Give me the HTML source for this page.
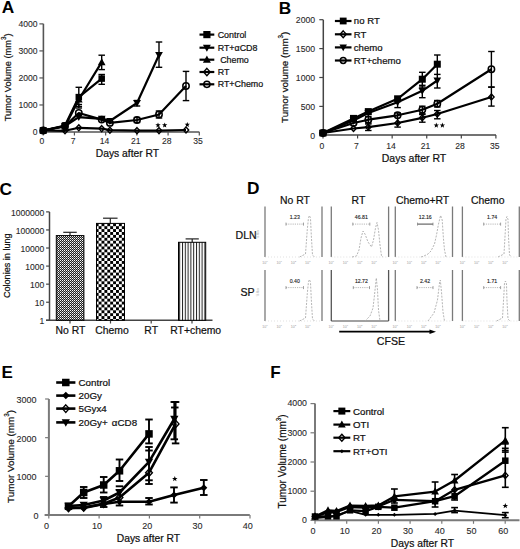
<!DOCTYPE html>
<html><head><meta charset="utf-8"><title>Figure</title>
<style>
html,body{margin:0;padding:0;background:#fff;}
body{width:520px;height:549px;overflow:hidden;}
svg{display:block;font-family:"Liberation Sans", sans-serif;}
</style></head>
<body>
<svg width="520" height="549" viewBox="0 0 520 549">
<rect width="520" height="549" fill="#fff"/>
<text x="1.7" y="12.7" font-size="17.3" font-weight="bold" fill="#000">A</text>
<line x1="43.4" y1="23.8" x2="43.4" y2="132.5" stroke="#555" stroke-width="1.6"/>
<line x1="39.4" y1="132" x2="43.4" y2="132" stroke="#555" stroke-width="1.2"/>
<text x="37.6" y="135.05" font-size="8.6" text-anchor="end" fill="#2a2a2a" stroke="#2a2a2a" stroke-width="0.1">0</text>
<line x1="39.4" y1="104.97" x2="43.4" y2="104.97" stroke="#555" stroke-width="1.2"/>
<text x="37.6" y="108.02" font-size="8.6" text-anchor="end" fill="#2a2a2a" stroke="#2a2a2a" stroke-width="0.1">1000</text>
<line x1="39.4" y1="77.94" x2="43.4" y2="77.94" stroke="#555" stroke-width="1.2"/>
<text x="37.6" y="80.99" font-size="8.6" text-anchor="end" fill="#2a2a2a" stroke="#2a2a2a" stroke-width="0.1">2000</text>
<line x1="39.4" y1="50.91" x2="43.4" y2="50.91" stroke="#555" stroke-width="1.2"/>
<text x="37.6" y="53.96" font-size="8.6" text-anchor="end" fill="#2a2a2a" stroke="#2a2a2a" stroke-width="0.1">3000</text>
<line x1="39.4" y1="23.88" x2="43.4" y2="23.88" stroke="#555" stroke-width="1.2"/>
<text x="37.6" y="26.93" font-size="8.6" text-anchor="end" fill="#2a2a2a" stroke="#2a2a2a" stroke-width="0.1">4000</text>
<line x1="43.2" y1="132" x2="199.4" y2="132" stroke="#555" stroke-width="1.6"/>
<line x1="43.2" y1="132" x2="43.2" y2="135.5" stroke="#555" stroke-width="1.2"/>
<text x="42" y="144.45" font-size="8.6" text-anchor="middle" fill="#2a2a2a" stroke="#2a2a2a" stroke-width="0.1">0</text>
<line x1="74.42" y1="132" x2="74.42" y2="135.5" stroke="#555" stroke-width="1.2"/>
<text x="73.22" y="144.45" font-size="8.6" text-anchor="middle" fill="#2a2a2a" stroke="#2a2a2a" stroke-width="0.1">7</text>
<line x1="105.64" y1="132" x2="105.64" y2="135.5" stroke="#555" stroke-width="1.2"/>
<text x="104.44" y="144.45" font-size="8.6" text-anchor="middle" fill="#2a2a2a" stroke="#2a2a2a" stroke-width="0.1">14</text>
<line x1="136.86" y1="132" x2="136.86" y2="135.5" stroke="#555" stroke-width="1.2"/>
<text x="135.66" y="144.45" font-size="8.6" text-anchor="middle" fill="#2a2a2a" stroke="#2a2a2a" stroke-width="0.1">21</text>
<line x1="168.08" y1="132" x2="168.08" y2="135.5" stroke="#555" stroke-width="1.2"/>
<text x="166.88" y="144.45" font-size="8.6" text-anchor="middle" fill="#2a2a2a" stroke="#2a2a2a" stroke-width="0.1">28</text>
<line x1="199.3" y1="132" x2="199.3" y2="135.5" stroke="#555" stroke-width="1.2"/>
<text x="198.1" y="144.45" font-size="8.6" text-anchor="middle" fill="#2a2a2a" stroke="#2a2a2a" stroke-width="0.1">35</text>
<text x="10.7" y="77.3" font-size="9.3" text-anchor="middle" fill="#111" transform="rotate(-90 10.7 77.3)" stroke="#111" stroke-width="0.22">Tumor Volume (mm<tspan dy="-4.9" font-size="6.3">3</tspan><tspan dy="4.9">)</tspan></text>
<text x="127.4" y="157.3" font-size="10.3" text-anchor="middle" fill="#111" stroke="#111" stroke-width="0.22">Days after RT</text>
<line x1="78.8" y1="87.3" x2="78.8" y2="106.5" stroke="#000" stroke-width="1.4"/>
<line x1="75.55" y1="87.3" x2="82.05" y2="87.3" stroke="#000" stroke-width="1.4"/>
<line x1="75.55" y1="106.5" x2="82.05" y2="106.5" stroke="#000" stroke-width="1.4"/>
<line x1="101.7" y1="74.5" x2="101.7" y2="84.3" stroke="#000" stroke-width="1.4"/>
<line x1="98.45" y1="74.5" x2="104.95" y2="74.5" stroke="#000" stroke-width="1.4"/>
<line x1="98.45" y1="84.3" x2="104.95" y2="84.3" stroke="#000" stroke-width="1.4"/>
<line x1="101.7" y1="55.2" x2="101.7" y2="69.6" stroke="#000" stroke-width="1.4"/>
<line x1="98.45" y1="55.2" x2="104.95" y2="55.2" stroke="#000" stroke-width="1.4"/>
<line x1="98.45" y1="69.6" x2="104.95" y2="69.6" stroke="#000" stroke-width="1.4"/>
<line x1="78.8" y1="104.5" x2="78.8" y2="108" stroke="#000" stroke-width="1.4"/>
<line x1="75.55" y1="104.5" x2="82.05" y2="104.5" stroke="#000" stroke-width="1.4"/>
<line x1="75.55" y1="108" x2="82.05" y2="108" stroke="#000" stroke-width="1.4"/>
<line x1="159" y1="42" x2="159" y2="67.3" stroke="#000" stroke-width="1.4"/>
<line x1="155.75" y1="42" x2="162.25" y2="42" stroke="#000" stroke-width="1.4"/>
<line x1="155.75" y1="67.3" x2="162.25" y2="67.3" stroke="#000" stroke-width="1.4"/>
<line x1="186" y1="71.4" x2="186" y2="100.6" stroke="#000" stroke-width="1.4"/>
<line x1="182.75" y1="71.4" x2="189.25" y2="71.4" stroke="#000" stroke-width="1.4"/>
<line x1="182.75" y1="100.6" x2="189.25" y2="100.6" stroke="#000" stroke-width="1.4"/>
<line x1="137" y1="100.5" x2="137" y2="106" stroke="#000" stroke-width="1.4"/>
<line x1="133.75" y1="100.5" x2="140.25" y2="100.5" stroke="#000" stroke-width="1.4"/>
<line x1="133.75" y1="106" x2="140.25" y2="106" stroke="#000" stroke-width="1.4"/>
<line x1="159" y1="111" x2="159" y2="118" stroke="#000" stroke-width="1.4"/>
<line x1="155.75" y1="111" x2="162.25" y2="111" stroke="#000" stroke-width="1.4"/>
<line x1="155.75" y1="118" x2="162.25" y2="118" stroke="#000" stroke-width="1.4"/>
<line x1="137" y1="117.5" x2="137" y2="122.5" stroke="#000" stroke-width="1.4"/>
<line x1="133.75" y1="117.5" x2="140.25" y2="117.5" stroke="#000" stroke-width="1.4"/>
<line x1="133.75" y1="122.5" x2="140.25" y2="122.5" stroke="#000" stroke-width="1.4"/>
<polyline points="43.2,130.5 65,130.8 78.8,127.8 101.7,128.6 109.9,130.2 137,130.6 159,130.6 186,130" fill="none" stroke="#000" stroke-width="2.2" stroke-linejoin="round"/>
<polygon points="43.2,127.5 45.9,130.5 43.2,133.5 40.5,130.5" fill="none" stroke="#000" stroke-width="1.4"/>
<polygon points="65,127.8 67.7,130.8 65,133.8 62.3,130.8" fill="none" stroke="#000" stroke-width="1.4"/>
<polygon points="78.8,124.8 81.5,127.8 78.8,130.8 76.1,127.8" fill="none" stroke="#000" stroke-width="1.4"/>
<polygon points="101.7,125.6 104.4,128.6 101.7,131.6 99,128.6" fill="none" stroke="#000" stroke-width="1.4"/>
<polygon points="109.9,127.2 112.6,130.2 109.9,133.2 107.2,130.2" fill="none" stroke="#000" stroke-width="1.4"/>
<polygon points="137,127.6 139.7,130.6 137,133.6 134.3,130.6" fill="none" stroke="#000" stroke-width="1.4"/>
<polygon points="159,127.6 161.7,130.6 159,133.6 156.3,130.6" fill="none" stroke="#000" stroke-width="1.4"/>
<polygon points="186,127 188.7,130 186,133 183.3,130" fill="none" stroke="#000" stroke-width="1.4"/>
<polyline points="43.2,130.5 65,126 78.8,113 101.7,119.6 109.9,122.9 137,120 159,114.5 186,86" fill="none" stroke="#000" stroke-width="2.2" stroke-linejoin="round"/>
<circle cx="43.2" cy="130.5" r="3.2" fill="none" stroke="#000" stroke-width="1.5"/>
<circle cx="65" cy="126" r="3.2" fill="none" stroke="#000" stroke-width="1.5"/>
<circle cx="78.8" cy="113" r="3.2" fill="none" stroke="#000" stroke-width="1.5"/>
<circle cx="101.7" cy="119.6" r="3.2" fill="none" stroke="#000" stroke-width="1.5"/>
<circle cx="109.9" cy="122.9" r="3.2" fill="none" stroke="#000" stroke-width="1.5"/>
<circle cx="137" cy="120" r="3.2" fill="none" stroke="#000" stroke-width="1.5"/>
<circle cx="159" cy="114.5" r="3.2" fill="none" stroke="#000" stroke-width="1.5"/>
<circle cx="186" cy="86" r="3.2" fill="none" stroke="#000" stroke-width="1.5"/>
<polyline points="43.2,130.5 65,126 78.8,117.1 101.7,118.8 109.9,121 137,103 159,55" fill="none" stroke="#000" stroke-width="2.2" stroke-linejoin="round"/>
<polygon points="43.2,134.53 39.35,127.53 47.05,127.53" fill="#000"/>
<polygon points="65,130.03 61.15,123.03 68.85,123.03" fill="#000"/>
<polygon points="78.8,121.12 74.95,114.12 82.65,114.12" fill="#000"/>
<polygon points="101.7,122.83 97.85,115.83 105.55,115.83" fill="#000"/>
<polygon points="109.9,125.03 106.05,118.03 113.75,118.03" fill="#000"/>
<polygon points="137,107.03 133.15,100.03 140.85,100.03" fill="#000"/>
<polygon points="159,59.02 155.15,52.02 162.85,52.02" fill="#000"/>
<polyline points="43.2,130.5 65,126.5 78.8,99.5 101.7,62.2" fill="none" stroke="#000" stroke-width="2.2" stroke-linejoin="round"/>
<polygon points="43.2,126.47 39.35,133.47 47.05,133.47" fill="#000"/>
<polygon points="65,122.47 61.15,129.47 68.85,129.47" fill="#000"/>
<polygon points="78.8,95.47 74.95,102.47 82.65,102.47" fill="#000"/>
<polygon points="101.7,58.18 97.85,65.17 105.55,65.17" fill="#000"/>
<polyline points="43.2,130.5 65,125.5 78.8,97.1 101.7,78.6" fill="none" stroke="#000" stroke-width="2.2" stroke-linejoin="round"/>
<rect x="39.95" y="127.25" width="6.5" height="6.5" fill="#000"/>
<rect x="61.75" y="122.25" width="6.5" height="6.5" fill="#000"/>
<rect x="75.55" y="93.85" width="6.5" height="6.5" fill="#000"/>
<rect x="98.45" y="75.35" width="6.5" height="6.5" fill="#000"/>
<polygon points="158,122.4 158.69,124.25 160.66,124.33 159.12,125.56 159.65,127.47 158,126.38 156.35,127.47 156.88,125.56 155.34,124.33 157.31,124.25" fill="#000"/>
<polygon points="164.7,122.4 165.39,124.25 167.36,124.33 165.82,125.56 166.35,127.47 164.7,126.38 163.05,127.47 163.58,125.56 162.04,124.33 164.01,124.25" fill="#000"/>
<polygon points="187.3,121.9 187.99,123.75 189.96,123.83 188.42,125.06 188.95,126.97 187.3,125.88 185.65,126.97 186.18,125.06 184.64,123.83 186.61,123.75" fill="#000"/>
<line x1="199.5" y1="34.6" x2="214.3" y2="34.6" stroke="#000" stroke-width="2.2"/>
<rect x="203.3" y="31" width="7.2" height="7.2" fill="#000"/>
<text x="217.7" y="37.76" font-size="8.9" fill="#111" stroke="#111" stroke-width="0.22">Control</text>
<line x1="199.5" y1="47.7" x2="214.3" y2="47.7" stroke="#000" stroke-width="2.2"/>
<polygon points="206.9,51.84 202.94,44.64 210.86,44.64" fill="#000"/>
<text x="217.7" y="50.86" font-size="8.9" fill="#111" stroke="#111" stroke-width="0.22">RT+&#945;CD8</text>
<line x1="199.5" y1="59.7" x2="214.3" y2="59.7" stroke="#000" stroke-width="2.2"/>
<polygon points="206.9,55.56 202.94,62.76 210.86,62.76" fill="#000"/>
<text x="217.7" y="62.86" font-size="8.9" fill="#111" stroke="#111" stroke-width="0.22"><tspan dx="2.5">Chemo</tspan></text>
<line x1="199.5" y1="72" x2="214.3" y2="72" stroke="#000" stroke-width="2.2"/>
<polygon points="206.9,68.4 210.14,72 206.9,75.6 203.66,72" fill="none" stroke="#000" stroke-width="1.4"/>
<text x="217.7" y="75.16" font-size="8.9" fill="#111" stroke="#111" stroke-width="0.22">RT</text>
<line x1="199.5" y1="84.3" x2="214.3" y2="84.3" stroke="#000" stroke-width="2.2"/>
<circle cx="206.9" cy="84.3" r="3.1" fill="none" stroke="#000" stroke-width="1.5"/>
<text x="217.7" y="87.46" font-size="8.9" fill="#111" stroke="#111" stroke-width="0.22">RT+Chemo</text>
<text x="278.7" y="13.8" font-size="17.3" font-weight="bold" fill="#000">B</text>
<line x1="323.3" y1="19.8" x2="323.3" y2="135.5" stroke="#444" stroke-width="1.5"/>
<line x1="319.3" y1="135.3" x2="323.3" y2="135.3" stroke="#444" stroke-width="1.2"/>
<text x="315.2" y="138.99" font-size="8.7" text-anchor="end" fill="#2a2a2a" stroke="#2a2a2a" stroke-width="0.1">0</text>
<line x1="319.3" y1="106.4" x2="323.3" y2="106.4" stroke="#444" stroke-width="1.2"/>
<text x="315.2" y="110.09" font-size="8.7" text-anchor="end" fill="#2a2a2a" stroke="#2a2a2a" stroke-width="0.1">500</text>
<line x1="319.3" y1="77.5" x2="323.3" y2="77.5" stroke="#444" stroke-width="1.2"/>
<text x="315.2" y="81.19" font-size="8.7" text-anchor="end" fill="#2a2a2a" stroke="#2a2a2a" stroke-width="0.1">1000</text>
<line x1="319.3" y1="48.6" x2="323.3" y2="48.6" stroke="#444" stroke-width="1.2"/>
<text x="315.2" y="52.29" font-size="8.7" text-anchor="end" fill="#2a2a2a" stroke="#2a2a2a" stroke-width="0.1">1500</text>
<line x1="319.3" y1="19.7" x2="323.3" y2="19.7" stroke="#444" stroke-width="1.2"/>
<text x="315.2" y="23.39" font-size="8.7" text-anchor="end" fill="#2a2a2a" stroke="#2a2a2a" stroke-width="0.1">2000</text>
<line x1="323.3" y1="135" x2="496" y2="135" stroke="#444" stroke-width="1.5"/>
<line x1="323" y1="135" x2="323" y2="138.5" stroke="#444" stroke-width="1.2"/>
<text x="321.8" y="148.65" font-size="8.6" text-anchor="middle" fill="#2a2a2a" stroke="#2a2a2a" stroke-width="0.1">0</text>
<line x1="357.58" y1="135" x2="357.58" y2="138.5" stroke="#444" stroke-width="1.2"/>
<text x="356.38" y="148.65" font-size="8.6" text-anchor="middle" fill="#2a2a2a" stroke="#2a2a2a" stroke-width="0.1">7</text>
<line x1="392.16" y1="135" x2="392.16" y2="138.5" stroke="#444" stroke-width="1.2"/>
<text x="390.96" y="148.65" font-size="8.6" text-anchor="middle" fill="#2a2a2a" stroke="#2a2a2a" stroke-width="0.1">14</text>
<line x1="426.74" y1="135" x2="426.74" y2="138.5" stroke="#444" stroke-width="1.2"/>
<text x="425.54" y="148.65" font-size="8.6" text-anchor="middle" fill="#2a2a2a" stroke="#2a2a2a" stroke-width="0.1">21</text>
<line x1="461.32" y1="135" x2="461.32" y2="138.5" stroke="#444" stroke-width="1.2"/>
<text x="460.12" y="148.65" font-size="8.6" text-anchor="middle" fill="#2a2a2a" stroke="#2a2a2a" stroke-width="0.1">28</text>
<line x1="495.9" y1="135" x2="495.9" y2="138.5" stroke="#444" stroke-width="1.2"/>
<text x="494.7" y="148.65" font-size="8.6" text-anchor="middle" fill="#2a2a2a" stroke="#2a2a2a" stroke-width="0.1">35</text>
<text x="287.9" y="77.3" font-size="9.8" text-anchor="middle" fill="#111" transform="rotate(-90 287.9 77.3)" stroke="#111" stroke-width="0.22">Tumor volume (mm<tspan dy="-4.9" font-size="6.3">3</tspan><tspan dy="4.9">)</tspan></text>
<text x="414" y="161.5" font-size="10.5" text-anchor="middle" fill="#111" stroke="#111" stroke-width="0.22">Days after RT</text>
<line x1="368.3" y1="116.5" x2="368.3" y2="123" stroke="#000" stroke-width="1.4"/>
<line x1="365.05" y1="116.5" x2="371.55" y2="116.5" stroke="#000" stroke-width="1.4"/>
<line x1="365.05" y1="123" x2="371.55" y2="123" stroke="#000" stroke-width="1.4"/>
<line x1="368.3" y1="124" x2="368.3" y2="130.5" stroke="#000" stroke-width="1.4"/>
<line x1="365.05" y1="124" x2="371.55" y2="124" stroke="#000" stroke-width="1.4"/>
<line x1="365.05" y1="130.5" x2="371.55" y2="130.5" stroke="#000" stroke-width="1.4"/>
<line x1="397.6" y1="99" x2="397.6" y2="107.6" stroke="#000" stroke-width="1.4"/>
<line x1="394.35" y1="107.6" x2="400.85" y2="107.6" stroke="#000" stroke-width="1.4"/>
<line x1="397.6" y1="113" x2="397.6" y2="127.1" stroke="#000" stroke-width="1.4"/>
<line x1="394.35" y1="113" x2="400.85" y2="113" stroke="#000" stroke-width="1.4"/>
<line x1="394.35" y1="127.1" x2="400.85" y2="127.1" stroke="#000" stroke-width="1.4"/>
<line x1="422.3" y1="72.3" x2="422.3" y2="97.7" stroke="#000" stroke-width="1.4"/>
<line x1="419.05" y1="72.3" x2="425.55" y2="72.3" stroke="#000" stroke-width="1.4"/>
<line x1="419.05" y1="97.7" x2="425.55" y2="97.7" stroke="#000" stroke-width="1.4"/>
<line x1="437.3" y1="55" x2="437.3" y2="88" stroke="#000" stroke-width="1.4"/>
<line x1="434.05" y1="55" x2="440.55" y2="55" stroke="#000" stroke-width="1.4"/>
<line x1="434.05" y1="88" x2="440.55" y2="88" stroke="#000" stroke-width="1.4"/>
<line x1="422.3" y1="106.2" x2="422.3" y2="113.8" stroke="#000" stroke-width="1.4"/>
<line x1="419.05" y1="106.2" x2="425.55" y2="106.2" stroke="#000" stroke-width="1.4"/>
<line x1="419.05" y1="113.8" x2="425.55" y2="113.8" stroke="#000" stroke-width="1.4"/>
<line x1="422.3" y1="114.5" x2="422.3" y2="122.2" stroke="#000" stroke-width="1.4"/>
<line x1="419.05" y1="114.5" x2="425.55" y2="114.5" stroke="#000" stroke-width="1.4"/>
<line x1="419.05" y1="122.2" x2="425.55" y2="122.2" stroke="#000" stroke-width="1.4"/>
<line x1="437.3" y1="100.5" x2="437.3" y2="107" stroke="#000" stroke-width="1.4"/>
<line x1="434.05" y1="100.5" x2="440.55" y2="100.5" stroke="#000" stroke-width="1.4"/>
<line x1="434.05" y1="107" x2="440.55" y2="107" stroke="#000" stroke-width="1.4"/>
<line x1="437.3" y1="110.5" x2="437.3" y2="118.8" stroke="#000" stroke-width="1.4"/>
<line x1="434.05" y1="110.5" x2="440.55" y2="110.5" stroke="#000" stroke-width="1.4"/>
<line x1="434.05" y1="118.8" x2="440.55" y2="118.8" stroke="#000" stroke-width="1.4"/>
<line x1="422.3" y1="85.3" x2="422.3" y2="85.3" stroke="#000" stroke-width="1.4"/>
<line x1="419.05" y1="85.3" x2="425.55" y2="85.3" stroke="#000" stroke-width="1.4"/>
<line x1="422.3" y1="87" x2="422.3" y2="87" stroke="#000" stroke-width="1.4"/>
<line x1="419.05" y1="87" x2="425.55" y2="87" stroke="#000" stroke-width="1.4"/>
<line x1="437.3" y1="74.4" x2="437.3" y2="74.4" stroke="#000" stroke-width="1.4"/>
<line x1="434.05" y1="74.4" x2="440.55" y2="74.4" stroke="#000" stroke-width="1.4"/>
<line x1="491.4" y1="51.5" x2="491.4" y2="87.1" stroke="#000" stroke-width="1.4"/>
<line x1="488.15" y1="51.5" x2="494.65" y2="51.5" stroke="#000" stroke-width="1.4"/>
<line x1="488.15" y1="87.1" x2="494.65" y2="87.1" stroke="#000" stroke-width="1.4"/>
<line x1="491.4" y1="87.1" x2="491.4" y2="106.1" stroke="#000" stroke-width="1.4"/>
<line x1="488.15" y1="87.1" x2="494.65" y2="87.1" stroke="#000" stroke-width="1.4"/>
<line x1="488.15" y1="106.1" x2="494.65" y2="106.1" stroke="#000" stroke-width="1.4"/>
<polyline points="323,133 353.5,128.5 368.3,127.1 397.6,123 422.3,117.8 437.3,114 491.4,97" fill="none" stroke="#000" stroke-width="2.2" stroke-linejoin="round"/>
<polygon points="323,130 325.7,133 323,136 320.3,133" fill="none" stroke="#000" stroke-width="1.4"/>
<polygon points="353.5,125.5 356.2,128.5 353.5,131.5 350.8,128.5" fill="none" stroke="#000" stroke-width="1.4"/>
<polygon points="368.3,124.1 371,127.1 368.3,130.1 365.6,127.1" fill="none" stroke="#000" stroke-width="1.4"/>
<polygon points="397.6,120 400.3,123 397.6,126 394.9,123" fill="none" stroke="#000" stroke-width="1.4"/>
<polygon points="422.3,114.8 425,117.8 422.3,120.8 419.6,117.8" fill="none" stroke="#000" stroke-width="1.4"/>
<polygon points="437.3,111 440,114 437.3,117 434.6,114" fill="none" stroke="#000" stroke-width="1.4"/>
<polygon points="491.4,94 494.1,97 491.4,100 488.7,97" fill="none" stroke="#000" stroke-width="1.4"/>
<polyline points="323,133 353.5,123 368.3,119.7 397.6,115.3 422.3,109.8 437.3,103.8 491.4,69.3" fill="none" stroke="#000" stroke-width="2.2" stroke-linejoin="round"/>
<circle cx="323" cy="133" r="3.2" fill="none" stroke="#000" stroke-width="1.5"/>
<circle cx="353.5" cy="123" r="3.2" fill="none" stroke="#000" stroke-width="1.5"/>
<circle cx="368.3" cy="119.7" r="3.2" fill="none" stroke="#000" stroke-width="1.5"/>
<circle cx="397.6" cy="115.3" r="3.2" fill="none" stroke="#000" stroke-width="1.5"/>
<circle cx="422.3" cy="109.8" r="3.2" fill="none" stroke="#000" stroke-width="1.5"/>
<circle cx="437.3" cy="103.8" r="3.2" fill="none" stroke="#000" stroke-width="1.5"/>
<circle cx="491.4" cy="69.3" r="3.2" fill="none" stroke="#000" stroke-width="1.5"/>
<polyline points="323,133 353.5,120.5 368.3,113 397.6,102.2 422.3,90.8 437.3,80.5" fill="none" stroke="#000" stroke-width="2.2" stroke-linejoin="round"/>
<polygon points="323,137.03 319.15,130.03 326.85,130.03" fill="#000"/>
<polygon points="353.5,124.53 349.65,117.53 357.35,117.53" fill="#000"/>
<polygon points="368.3,117.03 364.45,110.03 372.15,110.03" fill="#000"/>
<polygon points="397.6,106.23 393.75,99.23 401.45,99.23" fill="#000"/>
<polygon points="422.3,94.83 418.45,87.83 426.15,87.83" fill="#000"/>
<polygon points="437.3,84.53 433.45,77.53 441.15,77.53" fill="#000"/>
<polyline points="323,133 353.5,118.4 368.3,111.6 397.6,98.8 422.3,79.2 437.3,64.2" fill="none" stroke="#000" stroke-width="2.2" stroke-linejoin="round"/>
<rect x="319.5" y="129.5" width="7" height="7" fill="#000"/>
<rect x="350" y="114.9" width="7" height="7" fill="#000"/>
<rect x="364.8" y="108.1" width="7" height="7" fill="#000"/>
<rect x="394.1" y="95.3" width="7" height="7" fill="#000"/>
<rect x="418.8" y="75.7" width="7" height="7" fill="#000"/>
<rect x="433.8" y="60.7" width="7" height="7" fill="#000"/>
<polygon points="436.3,122.6 436.99,124.45 438.96,124.53 437.42,125.76 437.95,127.67 436.3,126.58 434.65,127.67 435.18,125.76 433.64,124.53 435.61,124.45" fill="#000"/>
<polygon points="442.4,122.6 443.09,124.45 445.06,124.53 443.52,125.76 444.05,127.67 442.4,126.58 440.75,127.67 441.28,125.76 439.74,124.53 441.71,124.45" fill="#000"/>
<line x1="334.9" y1="21" x2="351.5" y2="21" stroke="#000" stroke-width="2.2"/>
<rect x="339.8" y="17.6" width="6.8" height="6.8" fill="#000"/>
<text x="353.8" y="24.41" font-size="9.6" fill="#111" stroke="#111" stroke-width="0.22">no RT</text>
<line x1="334.9" y1="34.3" x2="351.5" y2="34.3" stroke="#000" stroke-width="2.2"/>
<polygon points="343.2,30.9 346.26,34.3 343.2,37.7 340.14,34.3" fill="none" stroke="#000" stroke-width="1.4"/>
<text x="353.8" y="37.71" font-size="9.6" fill="#111" stroke="#111" stroke-width="0.22">RT</text>
<line x1="334.9" y1="47.4" x2="351.5" y2="47.4" stroke="#000" stroke-width="2.2"/>
<polygon points="343.2,51.31 339.46,44.51 346.94,44.51" fill="#000"/>
<text x="353.8" y="50.81" font-size="9.6" fill="#111" stroke="#111" stroke-width="0.22">chemo</text>
<line x1="334.9" y1="60.5" x2="351.5" y2="60.5" stroke="#000" stroke-width="2.2"/>
<circle cx="343.2" cy="60.5" r="2.9" fill="none" stroke="#000" stroke-width="1.5"/>
<text x="353.8" y="63.91" font-size="9.6" fill="#111" stroke="#111" stroke-width="0.22">RT+chemo</text>
<text x="-0.5" y="194.6" font-size="17.3" font-weight="bold" fill="#000">C</text>
<line x1="49.5" y1="211.9" x2="49.5" y2="320.5" stroke="#444" stroke-width="1.5"/>
<line x1="46.1" y1="320.3" x2="49.5" y2="320.3" stroke="#444" stroke-width="1.2"/>
<text x="44.4" y="324.25" font-size="8.6" text-anchor="end" fill="#2a2a2a" stroke="#2a2a2a" stroke-width="0.1">1</text>
<line x1="46.1" y1="302.23" x2="49.5" y2="302.23" stroke="#444" stroke-width="1.2"/>
<text x="44.4" y="306.18" font-size="8.6" text-anchor="end" fill="#2a2a2a" stroke="#2a2a2a" stroke-width="0.1">10</text>
<line x1="46.1" y1="284.16" x2="49.5" y2="284.16" stroke="#444" stroke-width="1.2"/>
<text x="44.4" y="288.11" font-size="8.6" text-anchor="end" fill="#2a2a2a" stroke="#2a2a2a" stroke-width="0.1">100</text>
<line x1="46.1" y1="266.09" x2="49.5" y2="266.09" stroke="#444" stroke-width="1.2"/>
<text x="44.4" y="270.04" font-size="8.6" text-anchor="end" fill="#2a2a2a" stroke="#2a2a2a" stroke-width="0.1">1000</text>
<line x1="46.1" y1="248.02" x2="49.5" y2="248.02" stroke="#444" stroke-width="1.2"/>
<text x="44.4" y="251.97" font-size="8.6" text-anchor="end" fill="#2a2a2a" stroke="#2a2a2a" stroke-width="0.1">10000</text>
<line x1="46.1" y1="229.95" x2="49.5" y2="229.95" stroke="#444" stroke-width="1.2"/>
<text x="44.4" y="233.9" font-size="8.6" text-anchor="end" fill="#2a2a2a" stroke="#2a2a2a" stroke-width="0.1">100000</text>
<line x1="46.1" y1="211.88" x2="49.5" y2="211.88" stroke="#444" stroke-width="1.2"/>
<text x="44.4" y="215.83" font-size="8.6" text-anchor="end" fill="#2a2a2a" stroke="#2a2a2a" stroke-width="0.1">1000000</text>
<line x1="46" y1="320.3" x2="212.5" y2="320.3" stroke="#444" stroke-width="1.5"/>
<line x1="70" y1="320.3" x2="70" y2="323.5" stroke="#444" stroke-width="1.2"/>
<line x1="110.5" y1="320.3" x2="110.5" y2="323.5" stroke="#444" stroke-width="1.2"/>
<line x1="151.2" y1="320.3" x2="151.2" y2="323.5" stroke="#444" stroke-width="1.2"/>
<line x1="192" y1="320.3" x2="192" y2="323.5" stroke="#444" stroke-width="1.2"/>
<text x="70.5" y="334" font-size="10.4" text-anchor="middle" fill="#111" stroke="#111" stroke-width="0.22">No RT</text>
<text x="112" y="334" font-size="10.4" text-anchor="middle" fill="#111" stroke="#111" stroke-width="0.22">Chemo</text>
<text x="151.2" y="334" font-size="10.4" text-anchor="middle" fill="#111" stroke="#111" stroke-width="0.22">RT</text>
<text x="195.7" y="334" font-size="10.4" text-anchor="middle" fill="#111" stroke="#111" stroke-width="0.22">RT+chemo</text>
<text x="9.8" y="265.75" font-size="9.1" text-anchor="middle" fill="#111" transform="rotate(-90 9.8 265.75)" stroke="#111" stroke-width="0.22">Colonies in lung</text>
<defs><pattern id="pf" width="2" height="2" patternUnits="userSpaceOnUse"><rect width="2" height="2" fill="#222"/><rect width="1" height="1" fill="#fff"/><rect x="1" y="1" width="1" height="1" fill="#aaa"/></pattern><pattern id="pc" width="5.8" height="5.8" patternUnits="userSpaceOnUse"><rect width="5.8" height="5.8" fill="#fff"/><rect width="2.9" height="2.9" fill="#000"/><rect x="2.9" y="2.9" width="2.9" height="2.9" fill="#000"/></pattern><pattern id="pv" width="2.8" height="4" patternUnits="userSpaceOnUse"><rect width="2.8" height="4" fill="#fff"/><rect width="1" height="4" fill="#222"/></pattern></defs>
<line x1="70" y1="235.6" x2="70" y2="232.3" stroke="#222" stroke-width="1.2"/>
<line x1="63.25" y1="232.3" x2="76.75" y2="232.3" stroke="#222" stroke-width="1.2"/>
<line x1="110.3" y1="223.4" x2="110.3" y2="218.2" stroke="#222" stroke-width="1.2"/>
<line x1="103.05" y1="218.2" x2="117.55" y2="218.2" stroke="#222" stroke-width="1.2"/>
<line x1="192.2" y1="242.3" x2="192.2" y2="238.9" stroke="#222" stroke-width="1.2"/>
<line x1="185.6" y1="238.9" x2="198.8" y2="238.9" stroke="#222" stroke-width="1.2"/>
<rect x="56.3" y="235.6" width="27.6" height="84.7" fill="url(#pf)" stroke="#000" stroke-width="1"/>
<rect x="96.5" y="223.4" width="28.0" height="96.9" fill="url(#pc)" stroke="#000" stroke-width="1"/>
<rect x="178.5" y="242.3" width="27.2" height="78.0" fill="url(#pv)" stroke="#000" stroke-width="1"/>
<text x="246.9" y="193.6" font-size="17.3" font-weight="bold" fill="#000">D</text>
<text x="295" y="203.8" font-size="10.4" text-anchor="middle" fill="#111" stroke="#111" stroke-width="0.22">No RT</text>
<text x="358.4" y="203.8" font-size="10.4" text-anchor="middle" fill="#111" stroke="#111" stroke-width="0.22">RT</text>
<text x="422.6" y="203.8" font-size="10.4" text-anchor="middle" fill="#111" stroke="#111" stroke-width="0.22">Chemo+RT</text>
<text x="487.8" y="203.8" font-size="10.4" text-anchor="middle" fill="#111" stroke="#111" stroke-width="0.22">Chemo</text>
<text x="235.5" y="239" font-size="10.6" fill="#111" stroke="#111" stroke-width="0.22">DLN</text>
<text x="240.5" y="296.4" font-size="10.6" fill="#111" stroke="#111" stroke-width="0.22">SP</text>
<line x1="265" y1="206.5" x2="265" y2="257" stroke="#7a7a7a" stroke-width="1.3"/>
<line x1="322" y1="206.5" x2="322" y2="257" stroke="#7a7a7a" stroke-width="1.3"/>
<line x1="265" y1="257" x2="322" y2="257" stroke="#ccc" stroke-width="0.6" stroke-dasharray="1,2"/>
<text x="265" y="263.5" font-size="3.6" text-anchor="middle" fill="#999">10<tspan dy="-1.5" font-size="2.5">0</tspan></text>
<text x="279.2" y="263.5" font-size="3.6" text-anchor="middle" fill="#999">10<tspan dy="-1.5" font-size="2.5">1</tspan></text>
<text x="293.4" y="263.5" font-size="3.6" text-anchor="middle" fill="#999">10<tspan dy="-1.5" font-size="2.5">2</tspan></text>
<text x="307.6" y="263.5" font-size="3.6" text-anchor="middle" fill="#999">10<tspan dy="-1.5" font-size="2.5">3</tspan></text>
<line x1="331.3" y1="206.5" x2="331.3" y2="257" stroke="#7a7a7a" stroke-width="1.3"/>
<line x1="388.6" y1="206.5" x2="388.6" y2="257" stroke="#7a7a7a" stroke-width="1.3"/>
<line x1="331.3" y1="257" x2="388.6" y2="257" stroke="#ccc" stroke-width="0.6" stroke-dasharray="1,2"/>
<text x="331.3" y="263.5" font-size="3.6" text-anchor="middle" fill="#999">10<tspan dy="-1.5" font-size="2.5">0</tspan></text>
<text x="345.5" y="263.5" font-size="3.6" text-anchor="middle" fill="#999">10<tspan dy="-1.5" font-size="2.5">1</tspan></text>
<text x="359.7" y="263.5" font-size="3.6" text-anchor="middle" fill="#999">10<tspan dy="-1.5" font-size="2.5">2</tspan></text>
<text x="373.9" y="263.5" font-size="3.6" text-anchor="middle" fill="#999">10<tspan dy="-1.5" font-size="2.5">3</tspan></text>
<line x1="395.3" y1="206.5" x2="395.3" y2="257" stroke="#7a7a7a" stroke-width="1.3"/>
<line x1="452.5" y1="206.5" x2="452.5" y2="257" stroke="#7a7a7a" stroke-width="1.3"/>
<line x1="395.3" y1="257" x2="452.5" y2="257" stroke="#ccc" stroke-width="0.6" stroke-dasharray="1,2"/>
<text x="395.3" y="263.5" font-size="3.6" text-anchor="middle" fill="#999">10<tspan dy="-1.5" font-size="2.5">0</tspan></text>
<text x="409.5" y="263.5" font-size="3.6" text-anchor="middle" fill="#999">10<tspan dy="-1.5" font-size="2.5">1</tspan></text>
<text x="423.7" y="263.5" font-size="3.6" text-anchor="middle" fill="#999">10<tspan dy="-1.5" font-size="2.5">2</tspan></text>
<text x="437.9" y="263.5" font-size="3.6" text-anchor="middle" fill="#999">10<tspan dy="-1.5" font-size="2.5">3</tspan></text>
<line x1="462.4" y1="206.5" x2="462.4" y2="257" stroke="#7a7a7a" stroke-width="1.3"/>
<line x1="519.3" y1="206.5" x2="519.3" y2="257" stroke="#7a7a7a" stroke-width="1.3"/>
<line x1="462.4" y1="257" x2="519.3" y2="257" stroke="#ccc" stroke-width="0.6" stroke-dasharray="1,2"/>
<text x="462.4" y="263.5" font-size="3.6" text-anchor="middle" fill="#999">10<tspan dy="-1.5" font-size="2.5">0</tspan></text>
<text x="476.6" y="263.5" font-size="3.6" text-anchor="middle" fill="#999">10<tspan dy="-1.5" font-size="2.5">1</tspan></text>
<text x="490.8" y="263.5" font-size="3.6" text-anchor="middle" fill="#999">10<tspan dy="-1.5" font-size="2.5">2</tspan></text>
<text x="505" y="263.5" font-size="3.6" text-anchor="middle" fill="#999">10<tspan dy="-1.5" font-size="2.5">3</tspan></text>
<line x1="265" y1="270" x2="265" y2="321" stroke="#7a7a7a" stroke-width="1.3"/>
<line x1="322" y1="270" x2="322" y2="321" stroke="#7a7a7a" stroke-width="1.3"/>
<line x1="265" y1="321" x2="322" y2="321" stroke="#ccc" stroke-width="0.6" stroke-dasharray="1,2"/>
<text x="265" y="327.5" font-size="3.6" text-anchor="middle" fill="#999">10<tspan dy="-1.5" font-size="2.5">0</tspan></text>
<text x="279.2" y="327.5" font-size="3.6" text-anchor="middle" fill="#999">10<tspan dy="-1.5" font-size="2.5">1</tspan></text>
<text x="293.4" y="327.5" font-size="3.6" text-anchor="middle" fill="#999">10<tspan dy="-1.5" font-size="2.5">2</tspan></text>
<text x="307.6" y="327.5" font-size="3.6" text-anchor="middle" fill="#999">10<tspan dy="-1.5" font-size="2.5">3</tspan></text>
<line x1="331.3" y1="270" x2="331.3" y2="321" stroke="#555" stroke-width="1.3"/>
<line x1="388.6" y1="270" x2="388.6" y2="321" stroke="#555" stroke-width="1.3"/>
<line x1="331.3" y1="321" x2="388.6" y2="321" stroke="#444" stroke-width="1.1"/>
<text x="331.3" y="327.5" font-size="3.6" text-anchor="middle" fill="#999">10<tspan dy="-1.5" font-size="2.5">0</tspan></text>
<text x="345.5" y="327.5" font-size="3.6" text-anchor="middle" fill="#999">10<tspan dy="-1.5" font-size="2.5">1</tspan></text>
<text x="359.7" y="327.5" font-size="3.6" text-anchor="middle" fill="#999">10<tspan dy="-1.5" font-size="2.5">2</tspan></text>
<text x="373.9" y="327.5" font-size="3.6" text-anchor="middle" fill="#999">10<tspan dy="-1.5" font-size="2.5">3</tspan></text>
<line x1="395.3" y1="270" x2="395.3" y2="321" stroke="#7a7a7a" stroke-width="1.3"/>
<line x1="452.5" y1="270" x2="452.5" y2="321" stroke="#7a7a7a" stroke-width="1.3"/>
<line x1="395.3" y1="321" x2="452.5" y2="321" stroke="#ccc" stroke-width="0.6" stroke-dasharray="1,2"/>
<text x="395.3" y="327.5" font-size="3.6" text-anchor="middle" fill="#999">10<tspan dy="-1.5" font-size="2.5">0</tspan></text>
<text x="409.5" y="327.5" font-size="3.6" text-anchor="middle" fill="#999">10<tspan dy="-1.5" font-size="2.5">1</tspan></text>
<text x="423.7" y="327.5" font-size="3.6" text-anchor="middle" fill="#999">10<tspan dy="-1.5" font-size="2.5">2</tspan></text>
<text x="437.9" y="327.5" font-size="3.6" text-anchor="middle" fill="#999">10<tspan dy="-1.5" font-size="2.5">3</tspan></text>
<line x1="462.4" y1="270" x2="462.4" y2="321" stroke="#7a7a7a" stroke-width="1.3"/>
<line x1="519.3" y1="270" x2="519.3" y2="321" stroke="#7a7a7a" stroke-width="1.3"/>
<line x1="462.4" y1="321" x2="519.3" y2="321" stroke="#ccc" stroke-width="0.6" stroke-dasharray="1,2"/>
<text x="462.4" y="327.5" font-size="3.6" text-anchor="middle" fill="#999">10<tspan dy="-1.5" font-size="2.5">0</tspan></text>
<text x="476.6" y="327.5" font-size="3.6" text-anchor="middle" fill="#999">10<tspan dy="-1.5" font-size="2.5">1</tspan></text>
<text x="490.8" y="327.5" font-size="3.6" text-anchor="middle" fill="#999">10<tspan dy="-1.5" font-size="2.5">2</tspan></text>
<text x="505" y="327.5" font-size="3.6" text-anchor="middle" fill="#999">10<tspan dy="-1.5" font-size="2.5">3</tspan></text>
<text x="294.75" y="219.3" font-size="5.2" text-anchor="middle" fill="#222" stroke="#222" stroke-width="0.12">1.23</text>
<line x1="286" y1="224.1" x2="303.5" y2="224.1" stroke="#999" stroke-width="0.7" stroke-dasharray="1.2,1"/>
<line x1="286" y1="222.6" x2="286" y2="225.6" stroke="#777" stroke-width="0.7"/>
<line x1="303.5" y1="222.6" x2="303.5" y2="225.6" stroke="#777" stroke-width="0.7"/>
<text x="361.3" y="219.3" font-size="5.2" text-anchor="middle" fill="#222" stroke="#222" stroke-width="0.12">46.81</text>
<line x1="352.8" y1="224.1" x2="369.8" y2="224.1" stroke="#999" stroke-width="0.7" stroke-dasharray="1.2,1"/>
<line x1="352.8" y1="222.6" x2="352.8" y2="225.6" stroke="#777" stroke-width="0.7"/>
<line x1="369.8" y1="222.6" x2="369.8" y2="225.6" stroke="#777" stroke-width="0.7"/>
<text x="425.25" y="219.3" font-size="5.2" text-anchor="middle" fill="#222" stroke="#222" stroke-width="0.12">12.16</text>
<line x1="417.5" y1="224.1" x2="433" y2="224.1" stroke="#333" stroke-width="0.9"/>
<line x1="417.5" y1="222.6" x2="417.5" y2="225.6" stroke="#777" stroke-width="0.7"/>
<line x1="433" y1="222.6" x2="433" y2="225.6" stroke="#777" stroke-width="0.7"/>
<text x="492.15" y="219.3" font-size="5.2" text-anchor="middle" fill="#222" stroke="#222" stroke-width="0.12">1.74</text>
<line x1="483.7" y1="224.1" x2="500.6" y2="224.1" stroke="#999" stroke-width="0.7" stroke-dasharray="1.2,1"/>
<line x1="483.7" y1="222.6" x2="483.7" y2="225.6" stroke="#777" stroke-width="0.7"/>
<line x1="500.6" y1="222.6" x2="500.6" y2="225.6" stroke="#777" stroke-width="0.7"/>
<text x="294.75" y="282.8" font-size="5.2" text-anchor="middle" fill="#222" stroke="#222" stroke-width="0.12">0.40</text>
<line x1="286" y1="287.6" x2="303.5" y2="287.6" stroke="#999" stroke-width="0.7" stroke-dasharray="1.2,1"/>
<line x1="286" y1="286.1" x2="286" y2="289.1" stroke="#777" stroke-width="0.7"/>
<line x1="303.5" y1="286.1" x2="303.5" y2="289.1" stroke="#777" stroke-width="0.7"/>
<text x="361.4" y="282.8" font-size="5.2" text-anchor="middle" fill="#222" stroke="#222" stroke-width="0.12">12.72</text>
<line x1="353.3" y1="287.6" x2="369.5" y2="287.6" stroke="#999" stroke-width="0.7" stroke-dasharray="1.2,1"/>
<line x1="353.3" y1="286.1" x2="353.3" y2="289.1" stroke="#777" stroke-width="0.7"/>
<line x1="369.5" y1="286.1" x2="369.5" y2="289.1" stroke="#777" stroke-width="0.7"/>
<text x="425" y="282.8" font-size="5.2" text-anchor="middle" fill="#222" stroke="#222" stroke-width="0.12">2.42</text>
<line x1="417" y1="287.6" x2="433" y2="287.6" stroke="#999" stroke-width="0.7" stroke-dasharray="1.2,1"/>
<line x1="417" y1="286.1" x2="417" y2="289.1" stroke="#777" stroke-width="0.7"/>
<line x1="433" y1="286.1" x2="433" y2="289.1" stroke="#777" stroke-width="0.7"/>
<text x="492.15" y="282.8" font-size="5.2" text-anchor="middle" fill="#222" stroke="#222" stroke-width="0.12">1.71</text>
<line x1="483.7" y1="287.6" x2="500.6" y2="287.6" stroke="#999" stroke-width="0.7" stroke-dasharray="1.2,1"/>
<line x1="483.7" y1="286.1" x2="483.7" y2="289.1" stroke="#777" stroke-width="0.7"/>
<line x1="500.6" y1="286.1" x2="500.6" y2="289.1" stroke="#777" stroke-width="0.7"/>
<path d="M299.5,257 L305.5,254 L307.3,229.5 L308.5,217.5 L309.5,215.5 L310.5,218.5 L311.3,235.5 L312.5,255 L314.5,257" fill="none" stroke="#a8a8a8" stroke-width="0.85" stroke-dasharray="2,1.3"/>
<path d="M352,257 L356.5,256 L359,250 L361,238 L363,231 L365,234 L368,242 L371.5,247 L373.5,240 L375.5,228 L377,222.5 L378.5,230 L380,245 L381.5,256 L383,257" fill="none" stroke="#a8a8a8" stroke-width="0.85" stroke-dasharray="2,1.3"/>
<path d="M421,257 L424,256 L428,254 L431,251 L434.5,244 L436.5,235 L438.5,224 L440.6,215.4 L442.2,220 L443.4,238 L444.5,250 L446,257" fill="none" stroke="#a8a8a8" stroke-width="0.85" stroke-dasharray="2,1.3"/>
<path d="M498,257 L504,254 L505.35,230.5 L506,218.5 L507,216.5 L508,219.5 L508.5,236.5 L509.5,255 L511.5,257" fill="none" stroke="#a8a8a8" stroke-width="0.85" stroke-dasharray="2,1.3"/>
<path d="M299.5,321 L305.5,318 L307.3,293.5 L308.5,281.5 L309.5,279.5 L310.5,282.5 L311.3,299.5 L312.5,319 L314.5,321" fill="none" stroke="#a8a8a8" stroke-width="0.85" stroke-dasharray="2,1.3"/>
<path d="M365,321 L370,316 L373,308 L374.5,295 L376.3,278 L377.5,290 L378.5,310 L380,321" fill="none" stroke="#a8a8a8" stroke-width="0.85" stroke-dasharray="2,1.3"/>
<path d="M428,321 L434,313 L437.5,300 L439.5,283 L440.3,280 L441.5,292 L443,312 L444.5,321" fill="none" stroke="#a8a8a8" stroke-width="0.85" stroke-dasharray="2,1.3"/>
<path d="M496.5,321 L502.5,318 L503.85,295 L504.5,283 L505.5,281 L506.5,284 L507,301 L508,319 L510,321" fill="none" stroke="#a8a8a8" stroke-width="0.85" stroke-dasharray="2,1.3"/>
<text x="259" y="234" font-size="2.8" text-anchor="middle" fill="#aaa" transform="rotate(-90 259 234)">% Max</text>
<text x="259" y="292" font-size="2.8" text-anchor="middle" fill="#aaa" transform="rotate(-90 259 292)">% Max</text>
<line x1="339.2" y1="331.7" x2="431" y2="331.7" stroke="#000" stroke-width="1.8"/>
<polygon points="436,331.7 429.5,329.4 429.5,334" fill="#000"/>
<text x="391" y="345.4" font-size="10.6" text-anchor="middle" fill="#111" stroke="#111" stroke-width="0.22">CFSE</text>
<text x="1.6" y="378" font-size="17" font-weight="bold" fill="#000">E</text>
<line x1="48.9" y1="399" x2="48.9" y2="515" stroke="#7a7a7a" stroke-width="2"/>
<line x1="45.1" y1="476.33" x2="48.9" y2="476.33" stroke="#7a7a7a" stroke-width="1.2"/>
<text x="36.6" y="480.32" font-size="9" text-anchor="end" fill="#2a2a2a" stroke="#2a2a2a" stroke-width="0.1">1000</text>
<line x1="45.1" y1="437.66" x2="48.9" y2="437.66" stroke="#7a7a7a" stroke-width="1.2"/>
<text x="36.6" y="441.65" font-size="9" text-anchor="end" fill="#2a2a2a" stroke="#2a2a2a" stroke-width="0.1">2000</text>
<line x1="45.1" y1="398.99" x2="48.9" y2="398.99" stroke="#7a7a7a" stroke-width="1.2"/>
<text x="36.6" y="402.99" font-size="9" text-anchor="end" fill="#2a2a2a" stroke="#2a2a2a" stroke-width="0.1">3000</text>
<text x="38.4" y="518.6" font-size="9" text-anchor="end" fill="#2a2a2a" stroke="#2a2a2a" stroke-width="0.1">0</text>
<line x1="44.6" y1="515" x2="249.8" y2="515" stroke="#7a7a7a" stroke-width="2"/>
<line x1="48.8" y1="515" x2="48.8" y2="518.5" stroke="#7a7a7a" stroke-width="1.2"/>
<text x="46.6" y="528.8" font-size="9" text-anchor="middle" fill="#2a2a2a" stroke="#2a2a2a" stroke-width="0.1">0</text>
<line x1="99.1" y1="515" x2="99.1" y2="518.5" stroke="#7a7a7a" stroke-width="1.2"/>
<text x="96.9" y="528.8" font-size="9" text-anchor="middle" fill="#2a2a2a" stroke="#2a2a2a" stroke-width="0.1">10</text>
<line x1="149.4" y1="515" x2="149.4" y2="518.5" stroke="#7a7a7a" stroke-width="1.2"/>
<text x="147.2" y="528.8" font-size="9" text-anchor="middle" fill="#2a2a2a" stroke="#2a2a2a" stroke-width="0.1">20</text>
<line x1="199.7" y1="515" x2="199.7" y2="518.5" stroke="#7a7a7a" stroke-width="1.2"/>
<text x="197.5" y="528.8" font-size="9" text-anchor="middle" fill="#2a2a2a" stroke="#2a2a2a" stroke-width="0.1">30</text>
<line x1="250" y1="515" x2="250" y2="518.5" stroke="#7a7a7a" stroke-width="1.2"/>
<text x="247.8" y="528.8" font-size="9" text-anchor="middle" fill="#2a2a2a" stroke="#2a2a2a" stroke-width="0.1">40</text>
<text x="14.1" y="456.45" font-size="9.86" text-anchor="middle" fill="#111" transform="rotate(-90 14.1 456.45)" stroke="#111" stroke-width="0.22">Tumor Volume (mm<tspan dy="-4.9" font-size="6.3">3</tspan><tspan dy="4.9">)</tspan></text>
<text x="148.4" y="541.9" font-size="10.3" text-anchor="middle" fill="#111" stroke="#111" stroke-width="0.22">Days after RT</text>
<line x1="83.7" y1="487" x2="83.7" y2="498" stroke="#000" stroke-width="1.9"/>
<line x1="79.95" y1="487" x2="87.45" y2="487" stroke="#000" stroke-width="1.9"/>
<line x1="79.95" y1="498" x2="87.45" y2="498" stroke="#000" stroke-width="1.9"/>
<line x1="103.7" y1="477" x2="103.7" y2="492.5" stroke="#000" stroke-width="1.9"/>
<line x1="99.95" y1="477" x2="107.45" y2="477" stroke="#000" stroke-width="1.9"/>
<line x1="99.95" y1="492.5" x2="107.45" y2="492.5" stroke="#000" stroke-width="1.9"/>
<line x1="119.5" y1="459.5" x2="119.5" y2="481" stroke="#000" stroke-width="1.9"/>
<line x1="115.75" y1="459.5" x2="123.25" y2="459.5" stroke="#000" stroke-width="1.9"/>
<line x1="115.75" y1="481" x2="123.25" y2="481" stroke="#000" stroke-width="1.9"/>
<line x1="149" y1="419.5" x2="149" y2="443.4" stroke="#000" stroke-width="1.9"/>
<line x1="145.25" y1="419.5" x2="152.75" y2="419.5" stroke="#000" stroke-width="1.9"/>
<line x1="145.25" y1="443.4" x2="152.75" y2="443.4" stroke="#000" stroke-width="1.9"/>
<line x1="149" y1="447" x2="149" y2="484" stroke="#000" stroke-width="1.9"/>
<line x1="145.25" y1="447" x2="152.75" y2="447" stroke="#000" stroke-width="1.9"/>
<line x1="145.25" y1="484" x2="152.75" y2="484" stroke="#000" stroke-width="1.9"/>
<line x1="174.3" y1="402" x2="174.3" y2="439.3" stroke="#000" stroke-width="1.9"/>
<line x1="170.55" y1="402" x2="178.05" y2="402" stroke="#000" stroke-width="1.9"/>
<line x1="170.55" y1="439.3" x2="178.05" y2="439.3" stroke="#000" stroke-width="1.9"/>
<line x1="175.6" y1="402" x2="175.6" y2="443.4" stroke="#000" stroke-width="1.9"/>
<line x1="171.85" y1="402" x2="179.35" y2="402" stroke="#000" stroke-width="1.9"/>
<line x1="171.85" y1="443.4" x2="179.35" y2="443.4" stroke="#000" stroke-width="1.9"/>
<line x1="174.8" y1="407.5" x2="174.8" y2="407.5" stroke="#000" stroke-width="1.9"/>
<line x1="171.05" y1="407.5" x2="178.55" y2="407.5" stroke="#000" stroke-width="1.9"/>
<line x1="149" y1="450.5" x2="149" y2="450.5" stroke="#000" stroke-width="1.9"/>
<line x1="145.25" y1="450.5" x2="152.75" y2="450.5" stroke="#000" stroke-width="1.9"/>
<line x1="149" y1="480.3" x2="149" y2="480.3" stroke="#000" stroke-width="1.9"/>
<line x1="145.25" y1="480.3" x2="152.75" y2="480.3" stroke="#000" stroke-width="1.9"/>
<line x1="119.5" y1="486.3" x2="119.5" y2="486.3" stroke="#000" stroke-width="1.9"/>
<line x1="115.75" y1="486.3" x2="123.25" y2="486.3" stroke="#000" stroke-width="1.9"/>
<line x1="149" y1="498" x2="149" y2="504.5" stroke="#000" stroke-width="1.9"/>
<line x1="145.25" y1="498" x2="152.75" y2="498" stroke="#000" stroke-width="1.9"/>
<line x1="145.25" y1="504.5" x2="152.75" y2="504.5" stroke="#000" stroke-width="1.9"/>
<line x1="174" y1="487.4" x2="174" y2="502.6" stroke="#000" stroke-width="1.9"/>
<line x1="170.25" y1="487.4" x2="177.75" y2="487.4" stroke="#000" stroke-width="1.9"/>
<line x1="170.25" y1="502.6" x2="177.75" y2="502.6" stroke="#000" stroke-width="1.9"/>
<line x1="203.8" y1="480" x2="203.8" y2="495" stroke="#000" stroke-width="1.9"/>
<line x1="200.05" y1="480" x2="207.55" y2="480" stroke="#000" stroke-width="1.9"/>
<line x1="200.05" y1="495" x2="207.55" y2="495" stroke="#000" stroke-width="1.9"/>
<line x1="119.5" y1="490" x2="119.5" y2="505.5" stroke="#000" stroke-width="1.9"/>
<line x1="115.75" y1="490" x2="123.25" y2="490" stroke="#000" stroke-width="1.9"/>
<line x1="115.75" y1="505.5" x2="123.25" y2="505.5" stroke="#000" stroke-width="1.9"/>
<line x1="103.7" y1="497" x2="103.7" y2="507" stroke="#000" stroke-width="1.9"/>
<line x1="99.95" y1="497" x2="107.45" y2="497" stroke="#000" stroke-width="1.9"/>
<line x1="99.95" y1="507" x2="107.45" y2="507" stroke="#000" stroke-width="1.9"/>
<polyline points="68.5,508 83.7,508 103.7,504 119.5,501.8 149,501.8 174,495 203.8,487.7" fill="none" stroke="#000" stroke-width="2.6" stroke-linejoin="round"/>
<polygon points="68.5,504.5 72,508 68.5,511.5 65,508" fill="#000"/>
<polygon points="83.7,504.5 87.2,508 83.7,511.5 80.2,508" fill="#000"/>
<polygon points="103.7,500.5 107.2,504 103.7,507.5 100.2,504" fill="#000"/>
<polygon points="119.5,498.3 123,501.8 119.5,505.3 116,501.8" fill="#000"/>
<polygon points="149,498.3 152.5,501.8 149,505.3 145.5,501.8" fill="#000"/>
<polygon points="174,491.5 177.5,495 174,498.5 170.5,495" fill="#000"/>
<polygon points="203.8,484.2 207.3,487.7 203.8,491.2 200.3,487.7" fill="#000"/>
<polyline points="68.5,508 83.7,507.5 103.7,503.8 119.5,497.5 149,472.7 175.6,423.9" fill="none" stroke="#000" stroke-width="2.6" stroke-linejoin="round"/>
<polygon points="68.5,504.25 71.88,508 68.5,511.75 65.12,508" fill="none" stroke="#000" stroke-width="1.4"/>
<polygon points="83.7,503.75 87.08,507.5 83.7,511.25 80.33,507.5" fill="none" stroke="#000" stroke-width="1.4"/>
<polygon points="103.7,500.05 107.08,503.8 103.7,507.55 100.33,503.8" fill="none" stroke="#000" stroke-width="1.4"/>
<polygon points="119.5,493.75 122.88,497.5 119.5,501.25 116.12,497.5" fill="none" stroke="#000" stroke-width="1.4"/>
<polygon points="149,468.95 152.38,472.7 149,476.45 145.62,472.7" fill="none" stroke="#000" stroke-width="1.4"/>
<polygon points="175.6,420.15 178.97,423.9 175.6,427.65 172.22,423.9" fill="none" stroke="#000" stroke-width="1.4"/>
<polyline points="68.5,506 83.7,505 103.7,500.5 119.5,492.5 149,461.9 174.3,419" fill="none" stroke="#000" stroke-width="2.6" stroke-linejoin="round"/>
<polygon points="68.5,510.31 64.38,502.81 72.62,502.81" fill="#000"/>
<polygon points="83.7,509.31 79.58,501.81 87.83,501.81" fill="#000"/>
<polygon points="103.7,504.81 99.58,497.31 107.83,497.31" fill="#000"/>
<polygon points="119.5,496.81 115.38,489.31 123.62,489.31" fill="#000"/>
<polygon points="149,466.21 144.88,458.71 153.12,458.71" fill="#000"/>
<polygon points="174.3,423.31 170.18,415.81 178.43,415.81" fill="#000"/>
<polyline points="68.5,506.3 83.7,492.5 103.7,485 119.5,470.8 149,433.9" fill="none" stroke="#000" stroke-width="2.6" stroke-linejoin="round"/>
<rect x="64.75" y="502.55" width="7.5" height="7.5" fill="#000"/>
<rect x="79.95" y="488.75" width="7.5" height="7.5" fill="#000"/>
<rect x="99.95" y="481.25" width="7.5" height="7.5" fill="#000"/>
<rect x="115.75" y="467.05" width="7.5" height="7.5" fill="#000"/>
<rect x="145.25" y="430.15" width="7.5" height="7.5" fill="#000"/>
<polygon points="174.8,476 175.52,477.91 177.56,478 175.96,479.28 176.5,481.25 174.8,480.12 173.1,481.25 173.64,479.28 172.04,478 174.08,477.91" fill="#000"/>
<line x1="56.2" y1="382.5" x2="75.4" y2="382.5" stroke="#000" stroke-width="2.6"/>
<rect x="62.05" y="378.75" width="7.5" height="7.5" fill="#000"/>
<text x="78.5" y="385.98" font-size="9.8" fill="#111" stroke="#111" stroke-width="0.22">Control</text>
<line x1="56.2" y1="395.6" x2="75.4" y2="395.6" stroke="#000" stroke-width="2.6"/>
<polygon points="65.8,391.85 69.55,395.6 65.8,399.35 62.05,395.6" fill="#000"/>
<text x="78.5" y="399.08" font-size="9.8" fill="#111" stroke="#111" stroke-width="0.22">20Gy</text>
<line x1="56.2" y1="408.6" x2="75.4" y2="408.6" stroke="#000" stroke-width="2.6"/>
<polygon points="65.8,404.85 69.18,408.6 65.8,412.35 62.43,408.6" fill="none" stroke="#000" stroke-width="1.4"/>
<text x="78.5" y="412.08" font-size="9.8" fill="#111" stroke="#111" stroke-width="0.22">5Gyx4</text>
<line x1="56.2" y1="422.4" x2="75.4" y2="422.4" stroke="#000" stroke-width="2.6"/>
<polygon points="65.8,426.71 61.68,419.21 69.93,419.21" fill="#000"/>
<text x="78.5" y="425.88" font-size="9.8" fill="#111" stroke="#111" stroke-width="0.22">20Gy+ <tspan dx="1.5">&#945;CD8</tspan></text>
<text x="270.2" y="378.3" font-size="17" font-weight="bold" fill="#000">F</text>
<line x1="315" y1="403.5" x2="315" y2="520.4" stroke="#7a7a7a" stroke-width="2"/>
<line x1="310.5" y1="520.4" x2="315" y2="520.4" stroke="#7a7a7a" stroke-width="1.2"/>
<text x="307" y="523.12" font-size="8.8" text-anchor="end" fill="#2a2a2a" stroke="#2a2a2a" stroke-width="0.1">0</text>
<line x1="310.5" y1="491.2" x2="315" y2="491.2" stroke="#7a7a7a" stroke-width="1.2"/>
<text x="307" y="493.92" font-size="8.8" text-anchor="end" fill="#2a2a2a" stroke="#2a2a2a" stroke-width="0.1">1000</text>
<line x1="310.5" y1="462" x2="315" y2="462" stroke="#7a7a7a" stroke-width="1.2"/>
<text x="307" y="464.72" font-size="8.8" text-anchor="end" fill="#2a2a2a" stroke="#2a2a2a" stroke-width="0.1">2000</text>
<line x1="310.5" y1="432.8" x2="315" y2="432.8" stroke="#7a7a7a" stroke-width="1.2"/>
<text x="307" y="435.52" font-size="8.8" text-anchor="end" fill="#2a2a2a" stroke="#2a2a2a" stroke-width="0.1">3000</text>
<line x1="310.5" y1="403.6" x2="315" y2="403.6" stroke="#7a7a7a" stroke-width="1.2"/>
<text x="307" y="406.32" font-size="8.8" text-anchor="end" fill="#2a2a2a" stroke="#2a2a2a" stroke-width="0.1">4000</text>
<line x1="315" y1="520.3" x2="519.5" y2="520.3" stroke="#7a7a7a" stroke-width="2"/>
<line x1="315" y1="520.3" x2="315" y2="523.8" stroke="#7a7a7a" stroke-width="1.2"/>
<text x="313" y="533.8" font-size="9" text-anchor="middle" fill="#2a2a2a" stroke="#2a2a2a" stroke-width="0.1">0</text>
<line x1="346.7" y1="520.3" x2="346.7" y2="523.8" stroke="#7a7a7a" stroke-width="1.2"/>
<text x="344.7" y="533.8" font-size="9" text-anchor="middle" fill="#2a2a2a" stroke="#2a2a2a" stroke-width="0.1">10</text>
<line x1="378.4" y1="520.3" x2="378.4" y2="523.8" stroke="#7a7a7a" stroke-width="1.2"/>
<text x="376.4" y="533.8" font-size="9" text-anchor="middle" fill="#2a2a2a" stroke="#2a2a2a" stroke-width="0.1">20</text>
<line x1="410.1" y1="520.3" x2="410.1" y2="523.8" stroke="#7a7a7a" stroke-width="1.2"/>
<text x="408.1" y="533.8" font-size="9" text-anchor="middle" fill="#2a2a2a" stroke="#2a2a2a" stroke-width="0.1">30</text>
<line x1="441.8" y1="520.3" x2="441.8" y2="523.8" stroke="#7a7a7a" stroke-width="1.2"/>
<text x="439.8" y="533.8" font-size="9" text-anchor="middle" fill="#2a2a2a" stroke="#2a2a2a" stroke-width="0.1">40</text>
<line x1="473.5" y1="520.3" x2="473.5" y2="523.8" stroke="#7a7a7a" stroke-width="1.2"/>
<text x="471.5" y="533.8" font-size="9" text-anchor="middle" fill="#2a2a2a" stroke="#2a2a2a" stroke-width="0.1">50</text>
<line x1="505.2" y1="520.3" x2="505.2" y2="523.8" stroke="#7a7a7a" stroke-width="1.2"/>
<text x="503.2" y="533.8" font-size="9" text-anchor="middle" fill="#2a2a2a" stroke="#2a2a2a" stroke-width="0.1">60</text>
<text x="286.4" y="461.45" font-size="10" text-anchor="middle" fill="#111" transform="rotate(-90 286.4 461.45)" stroke="#111" stroke-width="0.22">Tumor Volume (mm<tspan dy="-4.9" font-size="6.3">3</tspan><tspan dy="4.9">)</tspan></text>
<text x="422.5" y="546.8" font-size="10.3" text-anchor="middle" fill="#111" stroke="#111" stroke-width="0.22">Days after RT</text>
<line x1="394.4" y1="489" x2="394.4" y2="503" stroke="#000" stroke-width="1.6"/>
<line x1="391" y1="489" x2="397.8" y2="489" stroke="#000" stroke-width="1.6"/>
<line x1="391" y1="503" x2="397.8" y2="503" stroke="#000" stroke-width="1.6"/>
<line x1="435.1" y1="482" x2="435.1" y2="507" stroke="#000" stroke-width="1.6"/>
<line x1="431.7" y1="482" x2="438.5" y2="482" stroke="#000" stroke-width="1.6"/>
<line x1="431.7" y1="507" x2="438.5" y2="507" stroke="#000" stroke-width="1.6"/>
<line x1="454.6" y1="474.5" x2="454.6" y2="500" stroke="#000" stroke-width="1.6"/>
<line x1="451.2" y1="474.5" x2="458" y2="474.5" stroke="#000" stroke-width="1.6"/>
<line x1="451.2" y1="500" x2="458" y2="500" stroke="#000" stroke-width="1.6"/>
<line x1="505.3" y1="427.7" x2="505.3" y2="450.5" stroke="#000" stroke-width="1.6"/>
<line x1="501.9" y1="427.7" x2="508.7" y2="427.7" stroke="#000" stroke-width="1.6"/>
<line x1="501.9" y1="450.5" x2="508.7" y2="450.5" stroke="#000" stroke-width="1.6"/>
<line x1="505.3" y1="448.3" x2="505.3" y2="487.3" stroke="#000" stroke-width="1.6"/>
<line x1="501.9" y1="448.3" x2="508.7" y2="448.3" stroke="#000" stroke-width="1.6"/>
<line x1="501.9" y1="487.3" x2="508.7" y2="487.3" stroke="#000" stroke-width="1.6"/>
<line x1="505.3" y1="452.1" x2="505.3" y2="452.1" stroke="#000" stroke-width="1.6"/>
<line x1="501.9" y1="452.1" x2="508.7" y2="452.1" stroke="#000" stroke-width="1.6"/>
<line x1="505.3" y1="443.9" x2="505.3" y2="443.9" stroke="#000" stroke-width="1.6"/>
<line x1="501.9" y1="443.9" x2="508.7" y2="443.9" stroke="#000" stroke-width="1.6"/>
<line x1="454.6" y1="507.6" x2="454.6" y2="512.6" stroke="#000" stroke-width="1.6"/>
<line x1="451.2" y1="507.6" x2="458" y2="507.6" stroke="#000" stroke-width="1.6"/>
<line x1="451.2" y1="512.6" x2="458" y2="512.6" stroke="#000" stroke-width="1.6"/>
<line x1="505.3" y1="512.6" x2="505.3" y2="517.7" stroke="#000" stroke-width="1.6"/>
<line x1="501.9" y1="512.6" x2="508.7" y2="512.6" stroke="#000" stroke-width="1.6"/>
<line x1="501.9" y1="517.7" x2="508.7" y2="517.7" stroke="#000" stroke-width="1.6"/>
<polyline points="315,518 328,517 336.5,515.4 350,510.8 365.6,514.8 378.3,514.8 394.4,514.8 435.1,513.9 454.6,510.6 505.3,515.2" fill="none" stroke="#000" stroke-width="1.8" stroke-linejoin="round"/>
<polygon points="315,516 317,518 315,520 313,518" fill="#000"/>
<polygon points="328,515 330,517 328,519 326,517" fill="#000"/>
<polygon points="336.5,513.4 338.5,515.4 336.5,517.4 334.5,515.4" fill="#000"/>
<polygon points="350,508.8 352,510.8 350,512.8 348,510.8" fill="#000"/>
<polygon points="365.6,512.8 367.6,514.8 365.6,516.8 363.6,514.8" fill="#000"/>
<polygon points="378.3,512.8 380.3,514.8 378.3,516.8 376.3,514.8" fill="#000"/>
<polygon points="394.4,512.8 396.4,514.8 394.4,516.8 392.4,514.8" fill="#000"/>
<polygon points="435.1,511.9 437.1,513.9 435.1,515.9 433.1,513.9" fill="#000"/>
<polygon points="454.6,508.6 456.6,510.6 454.6,512.6 452.6,510.6" fill="#000"/>
<polygon points="505.3,513.2 507.3,515.2 505.3,517.2 503.3,515.2" fill="#000"/>
<polyline points="315,516.5 328,512.5 336.5,512 350,507 365.6,507.5 378.3,506.5 394.4,499.8 435.1,501.2 454.6,489.8 505.3,475.4" fill="none" stroke="#000" stroke-width="2.3" stroke-linejoin="round"/>
<polygon points="315,513.5 317.7,516.5 315,519.5 312.3,516.5" fill="none" stroke="#000" stroke-width="1.4"/>
<polygon points="328,509.5 330.7,512.5 328,515.5 325.3,512.5" fill="none" stroke="#000" stroke-width="1.4"/>
<polygon points="336.5,509 339.2,512 336.5,515 333.8,512" fill="none" stroke="#000" stroke-width="1.4"/>
<polygon points="350,504 352.7,507 350,510 347.3,507" fill="none" stroke="#000" stroke-width="1.4"/>
<polygon points="365.6,504.5 368.3,507.5 365.6,510.5 362.9,507.5" fill="none" stroke="#000" stroke-width="1.4"/>
<polygon points="378.3,503.5 381,506.5 378.3,509.5 375.6,506.5" fill="none" stroke="#000" stroke-width="1.4"/>
<polygon points="394.4,496.8 397.1,499.8 394.4,502.8 391.7,499.8" fill="none" stroke="#000" stroke-width="1.4"/>
<polygon points="435.1,498.2 437.8,501.2 435.1,504.2 432.4,501.2" fill="none" stroke="#000" stroke-width="1.4"/>
<polygon points="454.6,486.8 457.3,489.8 454.6,492.8 451.9,489.8" fill="none" stroke="#000" stroke-width="1.4"/>
<polygon points="505.3,472.4 508,475.4 505.3,478.4 502.6,475.4" fill="none" stroke="#000" stroke-width="1.4"/>
<polyline points="315,516.5 328,516.3 336.5,516.3 350,510.3 365.6,511.1 378.3,506.8 394.4,507.7 435.1,501.2 454.6,496.2 505.3,460.7" fill="none" stroke="#000" stroke-width="2.3" stroke-linejoin="round"/>
<rect x="311.75" y="513.25" width="6.5" height="6.5" fill="#000"/>
<rect x="324.75" y="513.05" width="6.5" height="6.5" fill="#000"/>
<rect x="333.25" y="513.05" width="6.5" height="6.5" fill="#000"/>
<rect x="346.75" y="507.05" width="6.5" height="6.5" fill="#000"/>
<rect x="362.35" y="507.85" width="6.5" height="6.5" fill="#000"/>
<rect x="375.05" y="503.55" width="6.5" height="6.5" fill="#000"/>
<rect x="391.15" y="504.45" width="6.5" height="6.5" fill="#000"/>
<rect x="431.85" y="497.95" width="6.5" height="6.5" fill="#000"/>
<rect x="451.35" y="492.95" width="6.5" height="6.5" fill="#000"/>
<rect x="502.05" y="457.45" width="6.5" height="6.5" fill="#000"/>
<polyline points="315,516.5 328,510.3 336.5,511 350,505.6 365.6,506 378.3,505.5 394.4,496.4 435.1,491.6 454.6,480.5 505.3,440.4" fill="none" stroke="#000" stroke-width="2.3" stroke-linejoin="round"/>
<polygon points="315,512.48 311.15,519.48 318.85,519.48" fill="#000"/>
<polygon points="328,506.28 324.15,513.27 331.85,513.27" fill="#000"/>
<polygon points="336.5,506.98 332.65,513.98 340.35,513.98" fill="#000"/>
<polygon points="350,501.58 346.15,508.58 353.85,508.58" fill="#000"/>
<polygon points="365.6,501.98 361.75,508.98 369.45,508.98" fill="#000"/>
<polygon points="378.3,501.48 374.45,508.48 382.15,508.48" fill="#000"/>
<polygon points="394.4,492.38 390.55,499.38 398.25,499.38" fill="#000"/>
<polygon points="435.1,487.58 431.25,494.58 438.95,494.58" fill="#000"/>
<polygon points="454.6,476.48 450.75,483.48 458.45,483.48" fill="#000"/>
<polygon points="505.3,436.38 501.45,443.38 509.15,443.38" fill="#000"/>
<polygon points="505.3,503 506.02,504.91 508.06,505 506.46,506.28 507,508.25 505.3,507.12 503.6,508.25 504.14,506.28 502.54,505 504.58,504.91" fill="#000"/>
<line x1="333.4" y1="411.1" x2="350.3" y2="411.1" stroke="#000" stroke-width="2.2"/>
<rect x="338.35" y="407.6" width="7" height="7" fill="#000"/>
<text x="353" y="414.54" font-size="9.7" fill="#111" stroke="#111" stroke-width="0.22">Control</text>
<line x1="333.4" y1="424.6" x2="350.3" y2="424.6" stroke="#000" stroke-width="2.2"/>
<polygon points="341.85,420.58 338,427.58 345.7,427.58" fill="#000"/>
<text x="353" y="428.04" font-size="9.7" fill="#111" stroke="#111" stroke-width="0.22">OTI</text>
<line x1="333.4" y1="437.7" x2="350.3" y2="437.7" stroke="#000" stroke-width="2.2"/>
<polygon points="341.85,434.2 345,437.7 341.85,441.2 338.7,437.7" fill="none" stroke="#000" stroke-width="1.4"/>
<text x="353" y="441.14" font-size="9.7" fill="#111" stroke="#111" stroke-width="0.22">RT</text>
<line x1="333.4" y1="451.2" x2="350.3" y2="451.2" stroke="#000" stroke-width="2.2"/>
<polygon points="341.85,449.2 343.85,451.2 341.85,453.2 339.85,451.2" fill="#000"/>
<text x="353" y="454.64" font-size="9.7" fill="#111" stroke="#111" stroke-width="0.22">RT+OTI</text>
</svg>
</body></html>
